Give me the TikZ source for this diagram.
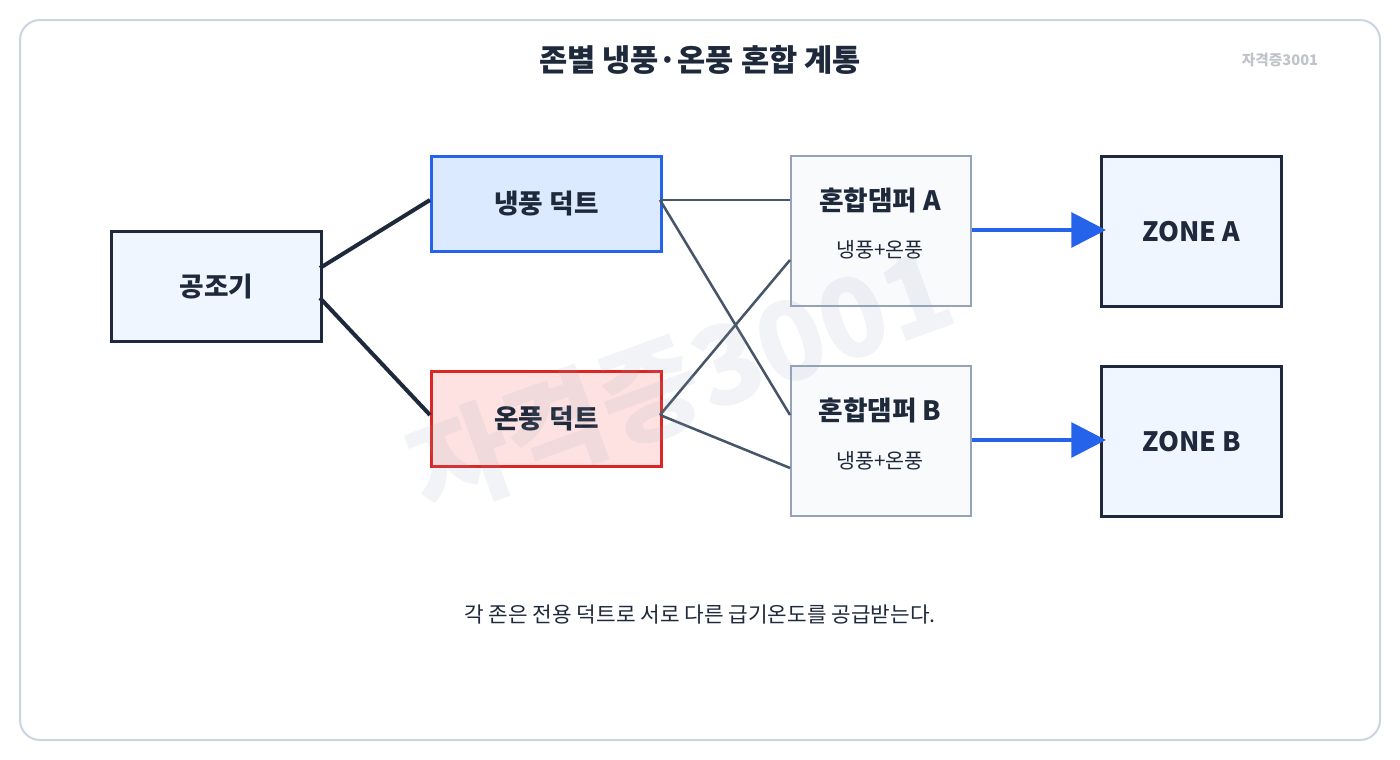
\documentclass[tikz,border=0pt]{standalone}
\usepackage{fontspec}
\setmainfont{Noto Sans CJK KR}
\usetikzlibrary{arrows.meta}
\definecolor{dark}{HTML}{1E293B}
\definecolor{slate}{HTML}{475569}
\definecolor{blu}{HTML}{2563EB}
\definecolor{frame}{HTML}{CBD5E1}
\definecolor{lblue}{HTML}{EFF6FF}
\definecolor{cblue}{HTML}{DBEAFE}
\definecolor{hred}{HTML}{FEE2E2}
\definecolor{red}{HTML}{DC2626}
\definecolor{mfill}{HTML}{F8FAFC}
\definecolor{mgray}{HTML}{94A3B8}
\definecolor{wmc}{HTML}{94A3B8}
\definecolor{tagc}{HTML}{C0C4CA}
\begin{document}
\begin{tikzpicture}[x=0.75pt,y=-0.75pt,
  box/.style={draw=dark,line width=2.25pt,fill=#1,anchor=north west,inner sep=0pt},
  lbl/.style={font=\fontsize{20}{22}\selectfont\bfseries,text=dark},
  con/.style={draw=slate,line width=1.9pt},
  feed/.style={draw=dark,line width=3pt},
  flow/.style={draw=blu,line width=3pt,-{Triangle[length=26pt,width=26pt]}}]
\useasboundingbox (0,0) rectangle (1400,760);
\draw[draw=frame,line width=1.5pt,rounded corners=15pt,fill=white] (20,20) rectangle (1380,740);
\node[font=\fontsize{23}{26}\selectfont\bfseries,text=dark] (title) at (700,60) {존별 냉풍·온풍 혼합 계통};
\node[font=\fontsize{11}{13}\selectfont\bfseries,text=tagc] (tag) at (1280,60) {자격증3001};
\node[box=lblue,minimum width=157.5pt,minimum height=82.5pt] (ahu) at (110,230) {};
\node[lbl] at (ahu.center) {공조기};
\node[box=cblue,draw=blu,minimum width=172.5pt,minimum height=71pt] (cold) at (430,155) {};
\node[lbl] at (cold.center) {냉풍 덕트};
\node[box=hred,draw=red,minimum width=172.5pt,minimum height=71pt] (hot) at (430,370) {};
\node[lbl] at (hot.center) {온풍 덕트};
\node[box=mfill,draw=mgray,line width=1.5pt,minimum width=135pt,minimum height=112.5pt] (ma) at (790,155) {};
\node[lbl] at (880,200) {혼합댐퍼 A};
\node[font=\fontsize{15.5}{18}\selectfont,text=dark] at (880,250) {냉풍+온풍};
\node[box=mfill,draw=mgray,line width=1.5pt,minimum width=135pt,minimum height=112.5pt] (mb) at (790,365) {};
\node[lbl] at (880,410) {혼합댐퍼 B};
\node[font=\fontsize{15.5}{18}\selectfont,text=dark] at (880,461) {냉풍+온풍};
\node[box=lblue,minimum width=135pt,minimum height=112.5pt] (za) at (1100,155) {};
\node[lbl] at (za.center) {ZONE A};
\node[box=lblue,minimum width=135pt,minimum height=112.5pt] (zb) at (1100,365) {};
\node[lbl] at (zb.center) {ZONE B};
\coordinate (a1) at (320,268); \coordinate (a2) at (320,298);
\coordinate (c0) at (430,200); \coordinate (h0) at (430,415);
\coordinate (c1) at (660,200); \coordinate (h1) at (660,415);
\coordinate (ma1) at (790,200); \coordinate (ma2) at (790,260);
\coordinate (mb1) at (790,415); \coordinate (mb2) at (790,468);
\draw[feed] (a1) -- (c0); \draw[feed] (a2) -- (h0);
\draw[con] (c1) -- (ma1); \draw[con] (c1) -- (mb1);
\draw[con] (h1) -- (ma2); \draw[con] (h1) -- (mb2);
\coordinate (ea) at (1106,230); \coordinate (eb) at (1106,440);
\draw[flow] (ma.east |- ea) -- (ea);
\draw[flow] (mb.east |- eb) -- (eb);
\node[font=\fontsize{16}{18}\selectfont,text=dark] (note) at (700,615) {각 존은 전용 덕트로 서로 다른 급기온도를 공급받는다.};
\node[rotate=20,text=wmc,text opacity=0.12,font=\fontsize{82}{86}\selectfont\bfseries] (wm) at (680,380) {자격증3001};
\end{tikzpicture}
\end{document}
